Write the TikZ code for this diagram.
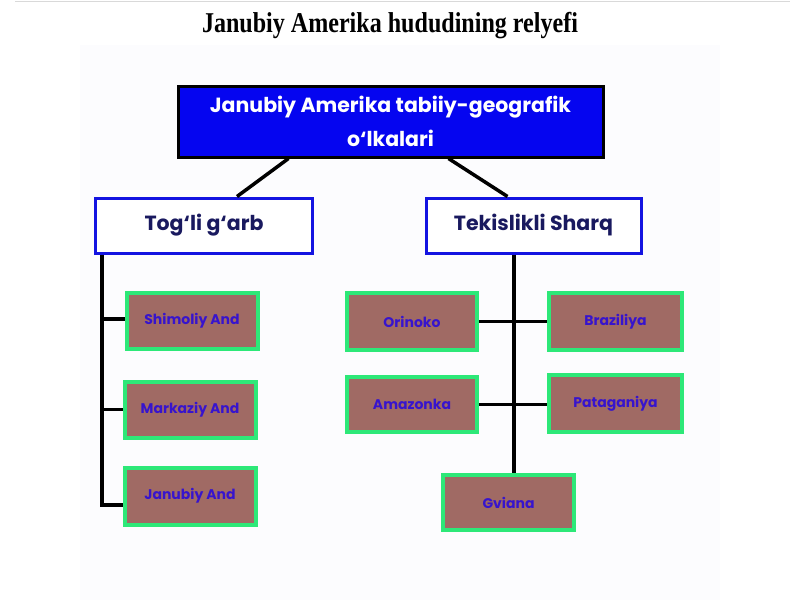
\documentclass[tikz,border=0pt]{standalone}
\usepackage{fontspec}
\usepackage{graphicx}
\setmainfont{Liberation Serif}
\setsansfont{Poppins}
\usetikzlibrary{calc}
\definecolor{topblue}{RGB}{5,5,240}
\definecolor{midblue}{RGB}{20,20,225}
\definecolor{navytext}{RGB}{25,25,95}
\definecolor{leafgreen}{RGB}{45,232,120}
\definecolor{leaffill}{RGB}{160,106,100}
\definecolor{leaftext}{RGB}{55,20,205}
\definecolor{panel}{RGB}{252,252,254}
\tikzset{
  topbox/.style={draw=black, line width=3pt, fill=topblue, text=white,
    font=\sffamily\bfseries\fontsize{20.5}{34}\selectfont, align=center, inner sep=0pt},
  midbox/.style={draw=midblue, line width=3pt, fill=white, text=navytext,
    font=\sffamily\bfseries\fontsize{20.5}{22}\selectfont, inner sep=0pt,
    minimum height=55pt},
  leafbox/.style={draw=leafgreen, line width=4pt, fill=leaffill, text=leaftext,
    font=\sffamily\bfseries\fontsize{14}{16}\selectfont, inner sep=0pt,
    minimum width=131pt, minimum height=56pt},
  conn/.style={draw=black, line width=3.5pt}
}
\begin{document}
\begin{tikzpicture}[x=1pt,y=-1pt]
\useasboundingbox (0,0) rectangle (800,600);
\fill[white] (0,0) rectangle (800,600);
\fill[panel] (80,45) rectangle (720,600);
\draw[black!15, line width=1.5pt] (15,1.5) -- (790,1.5);

\node[anchor=base, font=\bfseries\fontsize{28.7}{30}\selectfont] (title) at (390,32)
  {\resizebox{376pt}{\height}{Janubiy Amerika hududining relyefi}};

\node[topbox, minimum width=425pt, minimum height=71pt] (top) at (390.5,121.5)
  {Janubiy Amerika tabiiy-geografik\\o‘lkalari};

\node[midbox, minimum width=217pt] (tog) at (204,225.5) {Tog‘li g‘arb};
\node[midbox, minimum width=215pt] (tek) at (533.5,225.5) {Tekislikli Sharq};

\node[leafbox] (shim) at (192,321) {Shimoliy And};
\node[leafbox] (mark) at (190,409.5) {Markaziy And};
\node[leafbox, minimum height=57pt] (jan) at (190,496) {Janubiy And};

\node[leafbox, minimum width=130pt, minimum height=57pt] (ori) at (412,321.5) {Orinoko};
\node[leafbox, minimum width=133pt, minimum height=57pt] (bra) at (615.5,321.5) {Braziliya};
\node[leafbox, minimum width=130pt, minimum height=55pt] (ama) at (412,404.5) {Amazonka};
\node[leafbox, minimum width=133pt, minimum height=57pt] (pat) at (615.5,403.5) {Pataganiya};
\node[leafbox, minimum height=55pt] (gvi) at (508.5,502.5) {Gviana};

% top connectors
\draw[conn] ([xshift=-102pt]top.south) -- ([xshift=33pt]tog.north);
\draw[conn] ([xshift=58pt]top.south) -- ([xshift=-26pt]tek.north);

% left spine
\coordinate (ls) at ([xshift=8pt]tog.south west);
\draw[conn] (ls) |- ([yshift=-9pt]jan.west);
\draw[conn] ([yshift=2pt]shim.west) -- ([yshift=2pt]shim.west -| ls);
\draw[conn] (mark.west) -- (mark.west -| ls);

% right spine
\coordinate (rs) at ([xshift=-19.5pt]tek.south);
\draw[conn] (rs) -- (rs |- gvi.north);
\draw[conn] (ori.east) -- (bra.west);
\draw[conn] (ama.east) -- (ama.east -| pat.west);
\end{tikzpicture}
\end{document}
